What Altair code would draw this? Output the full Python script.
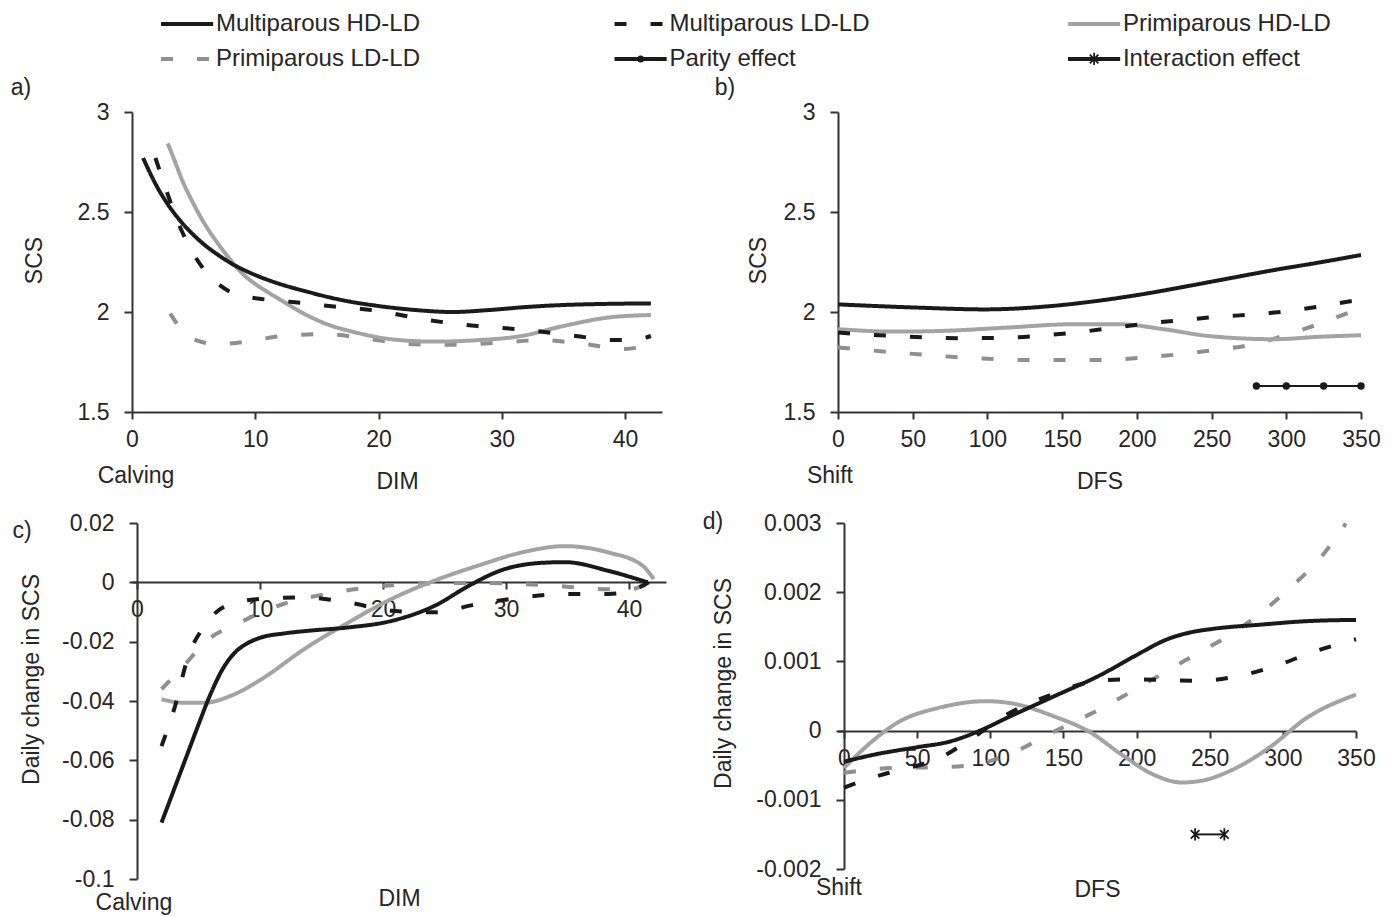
import altair as alt
import pandas as pd

FONT = "Liberation Sans, Arial, Helvetica, sans-serif"
TXT = "#262626"
AX = "#333333"
BLACK = "#1a1a1a"
GRAY_S = "#a3a3a3"
GRAY_D = "#8f8f8f"
FS = 23
FS_LEG = 24

SERIES = ["Multiparous HD-LD", "Multiparous LD-LD", "Primiparous HD-LD", "Primiparous LD-LD"]
COLORS = [BLACK, BLACK, GRAY_S, GRAY_D]
DASHES = [[1, 0], [16, 9], [1, 0], [16, 9]]

# ---------------- panel a: SCS vs DIM ----------------
A_MHD_X = [0.9, 2, 3, 4, 5, 6, 7, 8, 10, 12, 14, 17, 20, 23, 26, 29, 32, 35, 38, 42.1]
A_MHD_Y = [2.77, 2.63, 2.53, 2.45, 2.385, 2.33, 2.285, 2.245, 2.185, 2.14, 2.105, 2.06, 2.03, 2.01,
           2.0, 2.01, 2.025, 2.035, 2.04, 2.043]
A_MLD_X = [1.9, 2.5, 3, 3.5, 4, 5, 6, 7, 8, 9, 10.5, 13, 16, 20, 24, 28, 32, 36, 39, 40.5, 42.1]
A_MLD_Y = [2.77, 2.66, 2.57, 2.48, 2.41, 2.29, 2.2, 2.14, 2.1, 2.08, 2.065, 2.05, 2.03, 2.005, 1.96,
           1.93, 1.91, 1.88, 1.86, 1.86, 1.88]
A_PHD_X = [2.9, 3.5, 4, 5, 6, 7, 8, 9, 10, 11, 12.2, 14, 16, 18, 21, 24.5, 28, 31.6, 35, 38.6, 42.1]
A_PHD_Y = [2.843, 2.75, 2.67, 2.54, 2.43, 2.34, 2.26, 2.19, 2.14, 2.1, 2.055, 1.99, 1.935, 1.9, 1.864,
           1.852, 1.859, 1.88, 1.93, 1.972, 1.985]
A_PLD_X = [3.1, 4.1, 5.2, 7, 8.7, 12.2, 15.7, 19.3, 22.8, 26.3, 29.8, 33.3, 36.8, 40, 42.1]
A_PLD_Y = [1.992, 1.906, 1.859, 1.839, 1.847, 1.88, 1.889, 1.864, 1.839, 1.836, 1.847, 1.859, 1.839, 1.815, 1.839]

# ---------------- panel b: SCS vs DFS ----------------
B_MHD_X = [0, 53, 98, 143, 173, 203, 233, 263, 292, 320, 350]
B_MHD_Y = [2.038, 2.022, 2.013, 2.03, 2.055, 2.088, 2.128, 2.17, 2.21, 2.245, 2.285]
B_MLD_X = [0, 38, 83, 113, 158, 203, 248, 292, 350]
B_MLD_Y = [1.897, 1.88, 1.869, 1.872, 1.897, 1.939, 1.972, 1.997, 2.063]
B_PHD_X = [0, 38, 68, 113, 158, 188, 218, 248, 292, 322, 350]
B_PHD_Y = [1.914, 1.902, 1.905, 1.922, 1.939, 1.939, 1.914, 1.88, 1.864, 1.876, 1.884]
B_PLD_X = [0, 38, 83, 128, 173, 218, 248, 278, 308, 350]
B_PLD_Y = [1.823, 1.798, 1.773, 1.76, 1.76, 1.781, 1.806, 1.839, 1.905, 2.02]
PARITY_X = [280, 300, 325, 350]
PARITY_Y = [1.63, 1.63, 1.63, 1.63]

# ---------------- panel c: daily change vs DIM ----------------
C_MHD_X = [2, 3, 4, 5, 6, 7, 8, 9, 10, 12, 14, 17.2, 20.7, 24.2, 27, 29.5, 33, 34.8, 38.3, 41.5]
C_MHD_Y = [-0.081, -0.070, -0.059, -0.048, -0.0375, -0.029, -0.0235, -0.0205, -0.0187, -0.0172,
           -0.0163, -0.0152, -0.013, -0.0079, -0.0011, 0.0039, 0.0066, 0.0068, 0.0039, 0.0]
C_MLD_X = [2, 3.1, 4.1, 5.5, 7.6, 10.1, 13.6, 17.2, 20.7, 24.2, 27.7, 31.3, 34.8, 38.3, 40.8, 41.6]
C_MLD_Y = [-0.0552, -0.0417, -0.0259, -0.0146, -0.0073, -0.0056, -0.0051, -0.0068, -0.0096, -0.0101,
           -0.0073, -0.0051, -0.0039, -0.0039, -0.0017, 0.0]
C_PHD_X = [2, 3.8, 5.5, 7.6, 10.1, 13.6, 17.2, 20.7, 24.2, 27.7, 31.3, 34.8, 38.3, 41.1, 42]
C_PHD_Y = [-0.0394, -0.0406, -0.0406, -0.0383, -0.0327, -0.0225, -0.0135, -0.0056, 0.0006, 0.0056,
           0.0101, 0.0122, 0.0101, 0.0056, 0.0011]
C_PLD_X = [2, 3.8, 5.5, 8.4, 11.9, 15.4, 18.9, 22.4, 27.7, 33, 38.3, 40, 41.5]
C_PLD_Y = [-0.036, -0.0282, -0.0203, -0.0135, -0.0073, -0.0039, -0.0017, -0.0006, -0.0002, -0.0009,
           -0.0023, -0.0023, -0.0006]

# ---------------- panel d: daily change vs DFS ----------------
D_MHD_X = [0, 20, 50, 72, 93, 112, 143, 175, 199, 221, 237, 252, 284, 315, 350]
D_MHD_Y = [-0.00045, -0.00035, -0.00024, -0.00016, 0.0, 0.00019, 0.00049, 0.0008, 0.00108, 0.00132,
           0.00142, 0.00147, 0.00153, 0.00158, 0.0016]
D_MLD_X = [0, 18.7, 34, 65, 87, 112, 143, 168, 190, 221, 243, 268, 293, 324, 350]
D_MLD_Y = [-0.000825, -0.000684, -0.00059, -0.0004, -0.00012, 0.00024, 0.00053, 0.0007, 0.00074,
           0.00073, 0.00072, 0.00078, 0.00092, 0.00116, 0.00132]
D_PHD_X = [0, 18.7, 37, 65, 97, 118, 143, 168, 190, 212, 231, 243, 268, 293, 315, 350]
D_PHD_Y = [-0.00054, -0.000165, 0.00012, 0.00033, 0.000425, 0.00038, 0.00021, -0.00002, -0.00035,
           -0.00064, -0.00075, -0.00073, -0.00054, -0.00021, 0.000165, 0.00052]
D_PLD_X = [0, 34, 65, 87, 112, 143, 175, 206, 237, 268, 299, 330, 343]
D_PLD_Y = [-0.00061, -0.00054, -0.00053, -0.0005, -0.00035, -0.00002, 0.00031, 0.00068, 0.00106,
           0.00144, 0.00195, 0.00261, 0.00299]
INTER_X = [240, 260]
INTER_Y = [-0.0015, -0.0015]

# tick values
A_XT = [0, 10, 20, 30, 40]
B_XT = [0, 50, 100, 150, 200, 250, 300, 350]
AB_YT = [1.5, 2, 2.5, 3]
C_YT = [0.02, 0, -0.02, -0.04, -0.06, -0.08, -0.1]
D_YT = [0.003, 0.002, 0.001, 0, -0.001, -0.002]

LEG_NAMES = SERIES + ["Parity effect", "Interaction effect"]
LEG_COL = [0, 1, 2, 0, 1, 2]
LEG_ROW = [0, 0, 0, 1, 1, 1]

ASTER = "M-0.7,-0.7L0.7,0.7M-0.7,0.7L0.7,-0.7M0,-1L0,1"


def long_df(pairs):
    rows = []
    for name, xs, ys in reversed(pairs):
        for i, (x, y) in enumerate(zip(xs, ys)):
            rows.append({"series": name, "x": x, "y": y, "i": i})
    return pd.DataFrame(rows)


def x_axis(values, title, title_y, offset=0):
    return alt.Axis(
        values=values, title=title, grid=False, offset=offset,
        domainColor=AX, domainWidth=2, tickColor=AX, tickWidth=2, tickSize=7,
        labelFont=FONT, labelFontSize=FS, labelColor=TXT, labelPadding=9,
        labelExpr="'' + datum.value", labelFlush=False, labelOverlap=False,
        titleFont=FONT, titleFontSize=FS, titleFontWeight="normal", titleColor=TXT,
        titleY=title_y, titleBaseline="middle", titleAlign="center")


def y_axis(values, title, title_x, title_y, offset=0):
    return alt.Axis(
        values=values, title=title, grid=False, offset=offset,
        domainColor=AX, domainWidth=2, tickColor=AX, tickWidth=2, tickSize=8,
        labelFont=FONT, labelFontSize=FS, labelColor=TXT, labelPadding=15,
        labelExpr="'' + datum.value", labelFlush=False, labelOverlap=False,
        titleFont=FONT, titleFontSize=FS, titleFontWeight="normal", titleColor=TXT,
        titleX=title_x, titleY=title_y, titleAngle=270, titleAlign="center",
        titleBaseline="middle")


def text_layer(label, xpos, ypos):
    return alt.Chart(pd.DataFrame({"t": [label]})).mark_text(
        font=FONT, fontSize=FS, color=TXT, align="center", baseline="middle"
    ).encode(x=alt.value(xpos), y=alt.value(ypos), text="t:N")


def panel(pairs, xs, ys, xax, yax, xtitle, ytitle, w, h, extra, tag, note, note_dx, note_y):
    df = long_df(pairs)
    lines = alt.Chart(df).mark_line(strokeWidth=4, interpolate="monotone").encode(
        x=alt.X("x:Q", scale=xs, axis=xax, title=xtitle),
        y=alt.Y("y:Q", scale=ys, axis=yax, title=ytitle),
        color=alt.Color("series:N", scale=alt.Scale(domain=SERIES, range=COLORS), legend=None),
        strokeDash=alt.StrokeDash("series:N", scale=alt.Scale(domain=SERIES, range=DASHES), legend=None),
        detail="series:N",
        order="i:Q",
    )
    note_layer = alt.Chart(pd.DataFrame({"x": [0], "t": [note]})).mark_text(
        font=FONT, fontSize=FS, color=TXT, align="center", baseline="middle", dx=note_dx
    ).encode(x=alt.X("x:Q", scale=xs, title=xtitle), y=alt.value(note_y), text="t:N")
    layers = [lines] + extra + [note_layer, tag]
    return alt.layer(*layers).properties(width=w, height=h)


# ---- panel a ----
xs_a = alt.Scale(domain=[0, 43], nice=False, zero=False)
ys_ab = alt.Scale(domain=[1.5, 3], nice=False, zero=False)
pa = panel(
    [(SERIES[0], A_MHD_X, A_MHD_Y), (SERIES[1], A_MLD_X, A_MLD_Y),
     (SERIES[2], A_PHD_X, A_PHD_Y), (SERIES[3], A_PLD_X, A_PLD_Y)],
    xs_a, ys_ab, x_axis(A_XT, "DIM", 69), y_axis(AB_YT, "SCS", -98, 148), "DIM", "SCS",
    530, 300, [], text_layer("a)", -111, -24), "Calving", 4, 364)

# ---- panel b ----
xs_b = alt.Scale(domain=[0, 350], nice=False, zero=False)
par_df = pd.DataFrame({"x": PARITY_X, "y": PARITY_Y})
par_line = alt.Chart(par_df).mark_line(color=BLACK, strokeWidth=2).encode(
    x=alt.X("x:Q", scale=xs_b, title="DFS"), y=alt.Y("y:Q", scale=ys_ab, title="SCS"))
par_pts = alt.Chart(par_df).mark_circle(color=BLACK, size=55, opacity=1).encode(
    x=alt.X("x:Q", scale=xs_b, title="DFS"), y=alt.Y("y:Q", scale=ys_ab, title="SCS"))
pb = panel(
    [(SERIES[0], B_MHD_X, B_MHD_Y), (SERIES[1], B_MLD_X, B_MLD_Y),
     (SERIES[2], B_PHD_X, B_PHD_Y), (SERIES[3], B_PLD_X, B_PLD_Y)],
    xs_b, ys_ab, x_axis(B_XT, "DFS", 69), y_axis(AB_YT, "SCS", -80, 148), "DFS", "SCS",
    523, 300, [par_line, par_pts], text_layer("b)", -113, -24), "Shift", -8, 364)

# ---- panel c ----
xs_c = alt.Scale(domain=[-0.4, 43], nice=False, zero=False)
ys_c = alt.Scale(domain=[-0.1, 0.02], nice=False, zero=False)
pc = panel(
    [(SERIES[0], C_MHD_X, C_MHD_Y), (SERIES[1], C_MLD_X, C_MLD_Y),
     (SERIES[2], C_PHD_X, C_PHD_Y), (SERIES[3], C_PLD_X, C_PLD_Y)],
    xs_c, ys_c, x_axis(A_XT, "DIM", 316, offset=-297),
    y_axis(C_YT, "Daily change in SCS", -106, 156, offset=-5), "DIM", "Daily change in SCS",
    534, 356, [], text_layer("c)", -110, 8), "Calving", -3, 380)

# ---- panel d ----
xs_d = alt.Scale(domain=[-4.1, 350], nice=False, zero=False)
ys_d = alt.Scale(domain=[-0.002, 0.003], nice=False, zero=False)
int_df = pd.DataFrame({"x": INTER_X, "y": INTER_Y})
int_line = alt.Chart(int_df).mark_line(color=BLACK, strokeWidth=2).encode(
    x=alt.X("x:Q", scale=xs_d, title="DFS"), y=alt.Y("y:Q", scale=ys_d, title="Daily change in SCS"))
int_pts = alt.Chart(int_df).mark_point(shape=ASTER, size=150, filled=False, strokeWidth=1.8,
                                        color=BLACK, opacity=1).encode(
    x=alt.X("x:Q", scale=xs_d, title="DFS"), y=alt.Y("y:Q", scale=ys_d, title="Daily change in SCS"))
pd_ = panel(
    [(SERIES[0], D_MHD_X, D_MHD_Y), (SERIES[1], D_MLD_X, D_MLD_Y),
     (SERIES[2], D_PHD_X, D_PHD_Y), (SERIES[3], D_PLD_X, D_PLD_Y)],
    xs_d, ys_d, x_axis(B_XT, "DFS", 158, offset=-138),
    y_axis(D_YT, "Daily change in SCS", -121, 160, offset=-6), "DFS", "Daily change in SCS",
    518, 346, [int_line, int_pts], text_layer("d)", -125, -1), "Shift", -5, 365)

# ---- legend ----
leg_df = pd.DataFrame({"name": LEG_NAMES, "col": LEG_COL, "row": LEG_ROW})
leg_df["x1"] = leg_df["col"]
leg_df["x2"] = leg_df["col"] + 0.115
leg_df["xm"] = leg_df["col"] + 0.0575
leg_df["xt"] = leg_df["col"] + 0.121
lx = alt.Scale(domain=[-0.064, 2.646], nice=False, zero=False)
ly = alt.Scale(domain=[-0.343, 1.486], nice=False, zero=False, reverse=True)
leg_base = alt.Chart(leg_df)
leg_lines = leg_base.mark_rule().encode(
    x=alt.X("x1:Q", scale=lx, axis=None), x2="x2:Q",
    y=alt.Y("row:Q", scale=ly, axis=None),
    color=alt.Color("name:N", scale=alt.Scale(domain=LEG_NAMES,
                    range=[BLACK, BLACK, GRAY_S, GRAY_D, BLACK, BLACK]), legend=None),
    strokeDash=alt.StrokeDash("name:N", scale=alt.Scale(domain=LEG_NAMES,
                              range=[[1, 0], [12, 24], [1, 0], [12, 24], [1, 0], [1, 0]]), legend=None),
    strokeWidth=alt.StrokeWidth("name:N", scale=alt.Scale(domain=LEG_NAMES,
                                range=[4, 4, 4, 4, 2, 2]), legend=None),
)
leg_dot = leg_base.transform_filter(alt.datum.name == "Parity effect").mark_circle(
    color=BLACK, size=50, opacity=1).encode(
    x=alt.X("xm:Q", scale=lx, axis=None), y=alt.Y("row:Q", scale=ly, axis=None))
leg_star = leg_base.transform_filter(alt.datum.name == "Interaction effect").mark_point(
    shape=ASTER, size=150, filled=False, strokeWidth=1.8, color=BLACK, opacity=1).encode(
    x=alt.X("xm:Q", scale=lx, axis=None), y=alt.Y("row:Q", scale=ly, axis=None))
leg_text = leg_base.mark_text(font=FONT, fontSize=FS_LEG, color=TXT, align="left",
                              baseline="middle").encode(
    x=alt.X("xt:Q", scale=lx, axis=None), y=alt.Y("row:Q", scale=ly, axis=None), text="name:N")
legend = alt.layer(leg_lines, leg_dot, leg_star, leg_text).properties(width=1229, height=64)

grid = alt.concat(pa, pb, pc, pd_, columns=2, spacing={"row": 111, "column": 172}, bounds="flush")
chart = alt.vconcat(legend, grid, spacing=36, bounds="flush",
                    padding={"left": 2, "top": 4, "right": 5, "bottom": 5}
                    ).configure_view(stroke=None)

chart.save("out.html", embed_options={"renderer": "svg", "actions": False})
